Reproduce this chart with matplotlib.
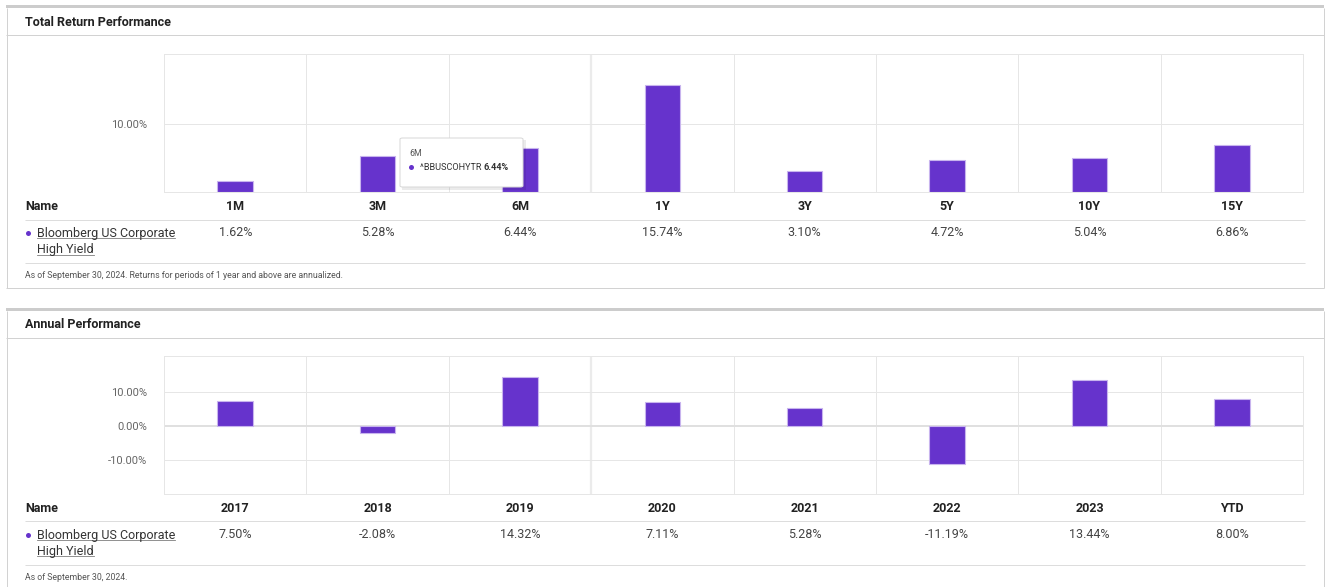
import matplotlib
matplotlib.use('Agg')
import matplotlib.pyplot as plt
import matplotlib.transforms as mtransforms
from matplotlib.patches import Rectangle, FancyBboxPatch
from matplotlib.lines import Line2D
import numpy as np

# ---------------- data ----------------
series_name = ["Bloomberg US Corporate", "High Yield"]
ticker = "^BBUSCOHYTR"

periods = ["1M", "3M", "6M", "1Y", "3Y", "5Y", "10Y", "15Y"]
period_returns = [1.62, 5.28, 6.44, 15.74, 3.10, 4.72, 5.04, 6.86]

years = ["2017", "2018", "2019", "2020", "2021", "2022", "2023", "YTD"]
annual_returns = [7.50, -2.08, 14.32, 7.11, 5.28, -11.19, 13.44, 8.00]

top_title = "Total Return Performance"
bottom_title = "Annual Performance"
top_note = "As of September 30, 2024. Returns for periods of 1 year and above are annualized."
bottom_note = "As of September 30, 2024."
tooltip_index = 2
highlight_boundary = 2.5  # slightly heavier divider (between 6M/1Y and 2019/2020)

# ---------------- style ----------------
FONT = ['Liberation Sans Narrow', 'Roboto', 'DejaVu Sans']
plt.rcParams['font.family'] = FONT
PURPLE = '#6633cc'
BAR_EDGE = '#c8b4ee'
GRID = '#e6e6e6'
BORDER = '#d2d2d2'
BAND = '#cccccc'
SEP = '#dddddd'

W, H = 1326, 587
fig = plt.figure(figsize=(W / 100, H / 100), dpi=100)
fig.patch.set_facecolor('white')


def fx(x):
    return x / W


def fy(y):
    return 1 - y / H


PX = 0.72  # one pixel in points


def hline(x0, x1, y, color, lw=1):
    fig.add_artist(Line2D([fx(x0), fx(x1)], [fy(y), fy(y)], transform=fig.transFigure,
                          color=color, lw=lw * PX, solid_capstyle='butt'))


def vline(x, y0, y1, color, lw=1):
    fig.add_artist(Line2D([fx(x), fx(x)], [fy(y0), fy(y1)], transform=fig.transFigure,
                          color=color, lw=lw * PX, solid_capstyle='butt'))


def rect(x0, y0, x1, y1, **kw):
    r = Rectangle((fx(x0), fy(y1)), fx(x1) - fx(x0), fy(y0) - fy(y1),
                  transform=fig.transFigure, **kw)
    fig.add_artist(r)
    return r


def panel(top, bottom, title, axes_top, axes_bottom, cats, vals, ylim, yticks,
          header_y, line1_y, row1_y, row2_y, line2_y, note_y, note):
    # frame
    rect(6, top, 1324, top + 3, facecolor=BAND, edgecolor='none')
    vline(6.5, top + 3, bottom, BORDER)
    vline(1323.5, top + 3, bottom, BORDER)
    if bottom < H:
        hline(6, 1324, bottom, BORDER)
    hline(6, 1324, top + 30, BORDER)
    fig.text(fx(25), fy(top + 17), title, fontsize=9, fontweight='bold', color='#222222',
             va='center', ha='left')

    ax = fig.add_axes([fx(164), fy(axes_bottom), fx(1303) - fx(164), fy(axes_top) - fy(axes_bottom)])
    x = np.arange(len(cats))
    ax.bar(x, vals, width=0.25, color=PURPLE, edgecolor=BAR_EDGE, linewidth=0.8, zorder=3)
    ax.set_xlim(-0.5, len(cats) - 0.5)
    ax.set_ylim(*ylim)
    ax.set_xticks([])
    ax.set_yticks(yticks)
    ax.set_yticklabels([f"{t:.2f}%" for t in yticks], fontsize=8, color='#666666')
    ax.tick_params(axis='y', length=0, pad=12)
    for b in np.arange(0.5, len(cats) - 0.5, 1.0):
        mid = abs(b - highlight_boundary) < 1e-9
        ax.axvline(b, color='#ebebeb' if mid else GRID, lw=(2.2 if mid else 1) * PX, zorder=1)
    for t in yticks:
        ax.axhline(t, color='#e0e0e0' if t == 0 else GRID, lw=(2 if t == 0 else 1) * PX, zorder=1)
    for s in ax.spines.values():
        s.set_color(GRID)
        s.set_linewidth(PX)
    ax.set_facecolor('white')

    tr = mtransforms.blended_transform_factory(ax.transData, fig.transFigure)
    fig.text(fx(25), fy(header_y), "Name", fontsize=9, fontweight='bold', color='#222222',
             va='center', ha='left')
    for xi, c, v in zip(x, cats, vals):
        fig.text(xi, fy(header_y), c, transform=tr, fontsize=9, fontweight='bold',
                 color='#222222', va='center', ha='center')
        fig.text(xi, fy(row1_y), f"{v:.2f}%", transform=tr, fontsize=9,
                 color='#444444', va='center', ha='center')
    hline(25, 1305, line1_y, SEP)
    hline(25, 1305, line2_y, SEP)
    fig.add_artist(Line2D([fx(28)], [fy(row1_y)], transform=fig.transFigure, marker='o',
                          markersize=3.6, color=PURPLE, markeredgewidth=0))
    names = []
    for yy, s in zip([row1_y, row2_y], series_name):
        t = fig.text(fx(37), fy(yy), s, fontsize=9, color='#333333', va='center', ha='left')
        names.append(t)
    fig.text(fx(25), fy(note_y), note, fontsize=6.3, color='#555555', va='center', ha='left')
    return ax, names


ax1, n1 = panel(5, 288, top_title, 54, 192, periods, period_returns, (0, 20.3), [10],
                207, 220, 233, 250, 263, 275, top_note)
ax2, n2 = panel(308, H + 5, bottom_title, 356, 494, years, annual_returns, (-20, 20.6),
                [-10, 0, 10], 509, 521, 535, 551, 565, 577, bottom_note)

# underline the series names
fig.canvas.draw()
renderer = fig.canvas.get_renderer()
inv = fig.transFigure.inverted()
for t in n1 + n2:
    bb = t.get_window_extent(renderer)
    (x0, y0), (x1, y1) = inv.transform([(bb.x0, bb.y0), (bb.x1, bb.y1)])
    yl = y0 + 1.5 / H
    fig.add_artist(Line2D([x0, x1], [yl, yl], transform=fig.transFigure, color='#777777', lw=0.8 * PX))

# tooltip over the 6M bar
tx0, ty0, tx1, ty1 = 400, 138, 523, 187
rect(tx0 + 2, ty0 + 2, tx1 + 3, ty1 + 3, facecolor='#000000', alpha=0.08, edgecolor='none', zorder=9)
tip = FancyBboxPatch((fx(tx0), fy(ty1)), fx(tx1) - fx(tx0), fy(ty0) - fy(ty1),
                     boxstyle='round,pad=0,rounding_size=0.002', transform=fig.transFigure,
                     facecolor='white', edgecolor='#d8d8d8', lw=PX, zorder=10)
fig.add_artist(tip)
fig.text(fx(409), fy(153), periods[tooltip_index], fontsize=6.3, color='#555555', va='center',
         ha='left', zorder=11)
fig.add_artist(Line2D([fx(411)], [fy(167)], transform=fig.transFigure, marker='o', markersize=3.6,
                      color=PURPLE, markeredgewidth=0, zorder=11))
t1 = fig.text(fx(420), fy(168), ticker + " ", fontsize=6.6, color='#333333', va='center', ha='left',
              zorder=11)
fig.canvas.draw()
bb = t1.get_window_extent(fig.canvas.get_renderer())
fig.text(inv.transform((bb.x1, bb.y0))[0], fy(168), f"{period_returns[tooltip_index]:.2f}%",
         fontsize=6.6, fontweight='bold', color='#333333', va='center', ha='left', zorder=11)

fig.savefig('out.png', dpi=100, facecolor='white')
